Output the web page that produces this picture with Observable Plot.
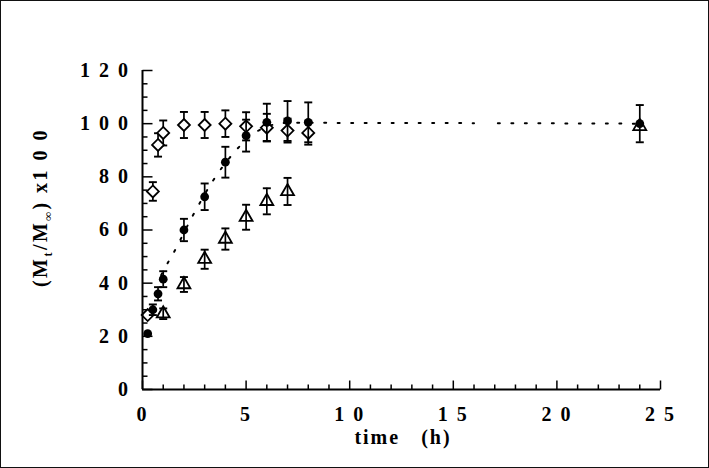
<!DOCTYPE html>
<html>
<head>
<meta charset="utf-8">
<script src="https://cdn.jsdelivr.net/npm/d3@7"></script>
<script src="https://cdn.jsdelivr.net/npm/@observablehq/plot@0.6"></script>
<style>
  html, body { margin: 0; padding: 0; background: #fff; }
  #wrap { position: relative; width: 709px; height: 468px; overflow: hidden; }
  #border { position: absolute; left: 0; top: 0; right: 0; bottom: 0; border: 1.5px solid #111; pointer-events: none; box-sizing: border-box; }
  #wrap svg text { letter-spacing: 2px; }
</style>
</head>
<body>
<div id="wrap"><div id="border"></div></div>
<script>
// ---- data ----
const timeCircle = [0.25, 0.5, 0.75, 1, 2, 3, 4, 5, 6, 7, 8, 24];
const valCircle  = [21, 30, 36, 41.5, 60, 72.5, 85.5, 95.5, 100.5, 101, 100.5, 100];
const errCircle  = [0, 2, 2.5, 3, 4.2, 5, 5.8, 6, 7, 7.5, 7.5, 7];

const timeDiamond = [0.25, 0.5, 0.75, 1, 2, 3, 4, 5, 6, 7, 8];
const valDiamond  = [28, 74.5, 92, 96.5, 99.5, 99.5, 100, 99, 98.5, 97.4, 96.5];
const errDiamond  = [0, 3.5, 4.4, 4.7, 4.9, 4.9, 5, 5.3, 5.2, 4.5, 4.4];

const timeTriangle = [1, 2, 3, 4, 5, 6, 7, 24];
const valTriangle  = [28.5, 39.5, 49, 56.6, 64.8, 70.8, 74.5, 99];
const errTriangle  = [2, 2.8, 3.6, 4, 4.7, 4.9, 5.1, 0];

// dotted fitted curve, two segments
const fitTime = [0.9, 1.03, 1.43, 2.4, 3.44, 4.38, 5.45, 6.3, 7, 8, 16.0, 17.15, 24];
const fitVal  = [43, 45, 50.4, 65, 79, 88.8, 96.7, 99.6, 100.3, 100.3, 100.2, 100.2, 100];
const fitSeg  = [0, 0, 0, 0, 0, 0, 0, 0, 0, 0, 0, 1, 1];

const xMajor = [0, 5, 10, 15, 20, 25];
const xMinor = [1, 2, 3, 4, 6, 7, 8, 9, 11, 12, 13, 14, 16, 17, 18, 19, 21, 22, 23, 24];
const yMajor = [0, 20, 40, 60, 80, 100, 120];
const yMinor = [5, 10, 15, 25, 30, 35, 45, 50, 55, 65, 70, 75, 85, 90, 95, 105, 110, 115];

// ---- build tables ----
const mk = (T, V, E) => T.map((t, i) => ({t, v: V[i], e: E[i]}));
const circles = mk(timeCircle, valCircle, errCircle);
const diamonds = mk(timeDiamond, valDiamond, errDiamond);
const triangles = mk(timeTriangle, valTriangle, errTriangle);
const fit = fitTime.map((t, i) => ({t, v: fitVal[i], s: fitSeg[i]}));

// custom symbols
const tickUpMajor = {draw(c) { c.moveTo(0, 0); c.lineTo(0, -9); }};
const tickUpMinor = {draw(c) { c.moveTo(0, 0); c.lineTo(0, -5); }};
const tickRightMajor = {draw(c) { c.moveTo(0, 0); c.lineTo(10, 0); }};
const tickRightMinor = {draw(c) { c.moveTo(0, 0); c.lineTo(5, 0); }};
const cap = {draw(c) { c.moveTo(-4, 0); c.lineTo(4, 0); }};

const font = "Liberation Serif";
const spaced = d => String(d).split("").join(" ");

function bars(data) {
  const d = data.filter(r => r.e > 0);
  return [
    Plot.ruleX(d, {x: "t", y1: r => r.v - r.e, y2: r => r.v + r.e, stroke: "black", strokeWidth: 1.7}),
    Plot.dot(d, {x: "t", y: r => r.v + r.e, symbol: cap, fill: "none", stroke: "black", strokeWidth: 1.9}),
    Plot.dot(d, {x: "t", y: r => r.v - r.e, symbol: cap, fill: "none", stroke: "black", strokeWidth: 1.9})
  ];
}

const svg = Plot.plot({
  width: 709,
  height: 468,
  marginLeft: 142,
  marginRight: 49,
  marginTop: 70,
  marginBottom: 79,
  style: {background: "white", fontFamily: font, overflow: "visible"},
  x: {domain: [0, 25], axis: null},
  y: {domain: [0, 120], axis: null},
  marks: [
    // fitted dotted curve
    Plot.line(fit, {x: "t", y: "v", z: "s", stroke: "black", strokeWidth: 2, strokeDasharray: "2,11.5", curve: "monotone-x"}),
    // diamonds
    ...bars(diamonds),
    Plot.dot(diamonds, {x: "t", y: "v", symbol: "diamond2", r: 5.4, fill: "white", stroke: "black", strokeWidth: 1.8}),
    // triangles
    ...bars(triangles),
    Plot.dot(triangles, {x: "t", y: "v", symbol: "triangle", r: 4.8, fill: "none", stroke: "black", strokeWidth: 1.8}),
    // circles
    ...bars(circles),
    Plot.dot(circles, {x: "t", y: "v", r: 4.4, fill: "black", stroke: "none"}),
    // axes lines
    Plot.ruleY([0], {stroke: "black", strokeWidth: 2}),
    Plot.ruleX([0], {stroke: "black", strokeWidth: 2}),
    // inward ticks
    Plot.dot(xMajor, {x: d => d, frameAnchor: "bottom", symbol: tickUpMajor, fill: "none", stroke: "black", strokeWidth: 1.5}),
    Plot.dot(xMinor, {x: d => d, frameAnchor: "bottom", symbol: tickUpMinor, fill: "none", stroke: "black", strokeWidth: 1.5}),
    Plot.dot(yMajor, {y: d => d, frameAnchor: "left", symbol: tickRightMajor, fill: "none", stroke: "black", strokeWidth: 1.5}),
    Plot.dot(yMinor, {y: d => d, frameAnchor: "left", symbol: tickRightMinor, fill: "none", stroke: "black", strokeWidth: 1.5}),
    // tick labels
    Plot.text(xMajor, {x: d => d, frameAnchor: "bottom", dy: 31, text: spaced, fontSize: 20, fontWeight: "bold", fontFamily: font, fill: "black"}),
    Plot.text(yMajor, {y: d => d, frameAnchor: "left", dx: -12.5, textAnchor: "end", text: spaced, fontSize: 20, fontWeight: "bold", fontFamily: font, fill: "black"}),
    // x-axis title
    Plot.text(["time\u00a0\u00a0\u00a0(h)"], {frameAnchor: "bottom", dy: 54, dx: 1.5, text: d => d, fontSize: 20, fontWeight: "bold", fontFamily: font, fill: "black"})
  ]
});

// y-axis title with subscripts
const yt = d3.select(svg).append("text")
  .attr("transform", "translate(47,207.5) rotate(-90)")
  .attr("text-anchor", "middle")
  .attr("fill", "black")
  .style("font-family", font)
  .style("font-weight", "bold")
  .style("font-size", "20px")
  .style("letter-spacing", "2.5px");
yt.append("tspan").text("(M");
yt.append("tspan").attr("dy", 4.5).style("font-size", "12px").text("t");
yt.append("tspan").attr("dy", -4.5).text("/M");
yt.append("tspan").attr("dy", 4.5).style("font-size", "12px").text("\u221e");
yt.append("tspan").attr("dy", -4.5).text(") x1 0 0");

document.getElementById("wrap").prepend(svg);
</script>
</body>
</html>
